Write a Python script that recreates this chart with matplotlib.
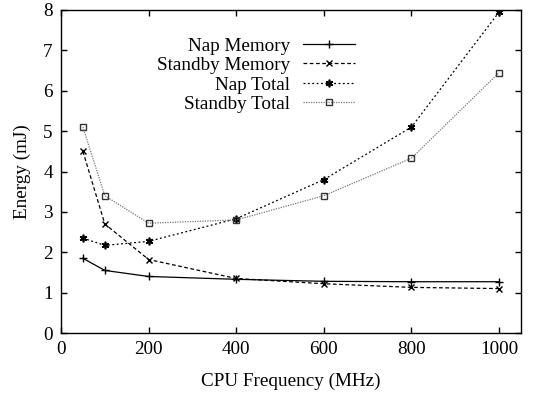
import matplotlib
matplotlib.use('Agg')
import matplotlib.pyplot as plt

plt.rcParams['font.family'] = ['Liberation Serif', 'DejaVu Serif']

freq = [50, 100, 200, 400, 600, 800, 1000]
nap_memory = [1.85, 1.55, 1.40, 1.33, 1.28, 1.27, 1.27]
standby_memory = [4.50, 2.70, 1.82, 1.35, 1.22, 1.13, 1.10]
nap_total = [2.35, 2.17, 2.27, 2.83, 3.80, 5.10, 7.95]
standby_total = [5.10, 3.40, 2.72, 2.80, 3.40, 4.33, 6.45]

fs = 13.8
fig = plt.figure(figsize=(5.45, 3.96), dpi=100)
ax = fig.add_axes([61 / 545, 1 - 333 / 396, 460 / 545, 323 / 396])

ax.plot(freq, nap_memory, color='black', lw=0.9, marker='+', ms=6, mew=1.0,
        label='Nap Memory')
ax.plot(freq, standby_memory, color='black', lw=0.9, ls=(0, (3, 2)), marker='x',
        ms=5, mew=1.0, label='Standby Memory')
ax.plot(freq, nap_total, color='black', lw=0.9, ls=(0, (1.5, 2)), marker=(6, 2, 0),
        ms=5.5, mew=1.2, label='Nap Total')
ax.plot(freq, standby_total, color='#777777', lw=0.9, ls=(0, (1, 1)), marker='s',
        ms=5, mfc='none', mec='#333333', mew=1.0, label='Standby Total')

ax.set_xlim(0, 1050)
ax.set_ylim(0, 8)
ax.set_xticks([0, 200, 400, 600, 800, 1000])
ax.set_yticks(range(0, 9))
ax.tick_params(direction='in', top=True, right=True, labelsize=fs, length=4,
               width=1.0, pad=6)
for s in ax.spines.values():
    s.set_linewidth(1.0)

ax.set_xlabel('CPU Frequency (MHz)', fontsize=fs, labelpad=10)
ax.set_ylabel('Energy (mJ)', fontsize=fs, labelpad=9)

leg = ax.legend(loc='upper right', bbox_to_anchor=(0.639, 0.915),
                markerfirst=False, frameon=False, fontsize=fs, handlelength=2.7,
                labelspacing=0.1, handletextpad=0.7, borderaxespad=0,
                borderpad=0)

fig.savefig('out.png', dpi=100)
